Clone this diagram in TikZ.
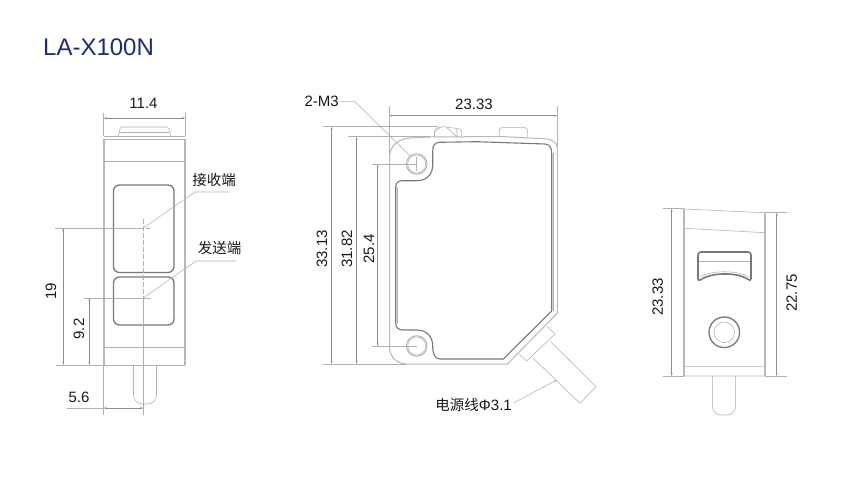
\documentclass[tikz,border=0pt]{standalone}
\usepackage{fontspec}
\setmainfont{Liberation Sans}
\newfontfamily\cjkfont{Noto Sans CJK SC}
\usetikzlibrary{arrows.meta}
\definecolor{thinc}{HTML}{B0B0B0}
\definecolor{dimc}{HTML}{8C8C8C}
\definecolor{bodyc}{HTML}{B8B8B8}
\definecolor{winc}{HTML}{787878}
\definecolor{titlec}{HTML}{1F2A7A}
\tikzset{
  thinl/.style={draw=thinc,line width=0.55pt},
  extl/.style={draw=thinc,line width=0.55pt},
  diml/.style={draw=dimc,line width=0.55pt,{Stealth[length=3pt,width=1.8pt]}-{Stealth[length=3pt,width=1.8pt]}},
  bodyl/.style={draw=bodyc,line width=1.5pt},
  outl/.style={draw=bodyc,line width=1pt},
  winl/.style={draw=winc,line width=1.3pt},
  cl/.style={draw=thinc,line width=0.5pt,dash pattern=on 5pt off 2pt},
  lab/.style={inner sep=0pt,text=black!90,font=\fontsize{15}{15}\selectfont},
  cjk/.style={inner sep=0pt,text=black!90,font=\fontsize{14.5}{15}\selectfont\cjkfont},
}
\begin{document}
\begin{tikzpicture}[x=1pt,y=-1pt]
\useasboundingbox[fill=white] (0,0) rectangle (846,503);
\node[inner sep=0pt,anchor=west,text=titlec,font=\fontsize{24}{24}\selectfont] (title) at (43,47) {LA-X100N};

% ---------- front view
\draw[bodyl] (104,139) -- (104,365);
\draw[bodyl] (185,139) -- (185,365);
\draw[thinl] (104,136) -- (185,136) (104,139) -- (185,139) (104,161) -- (185,161) (104,347) -- (185,347) (104,365) -- (185,365);
\draw[thinl] (118,137) -- (120,129) -- (121,127) -- (167,127) -- (169,129) -- (171,137);
\draw[thinl] (119,132) -- (169,132);
\draw[winl,rounded corners=6pt] (113.5,185) rectangle (174,272.5);
\draw[winl,rounded corners=6pt] (113.5,277) rectangle (174,325);
\draw[thinl,rounded corners=9pt] (133.5,365) -- (133.5,404) -- (156.5,404) -- (156.5,365);
\draw[cl] (143.3,219) -- (143.3,298);
\draw[thinl] (143.3,298) -- (143.3,415);
\draw[thinl] (138,298) -- (150,298);
\draw[cl] (139,228) -- (150,228);
% dimensions
\draw[extl] (103.7,113) -- (103.7,136) (185.3,113) -- (185.3,136);
\draw[diml] (103.7,118) -- (185.3,118);
\node[lab] (d114) at (143.5,103) {11.4};
\draw[extl] (55,228) -- (139,228) (56,365) -- (104,365) (84,298) -- (140,298);
\draw[diml] (63.3,228) -- (63.3,365);
\draw[diml] (89.3,298) -- (89.3,365);
\node[lab,rotate=90] (d19) at (51,291.5) {19};
\node[lab,rotate=90] (d92) at (79,329) {9.2};
\draw[extl] (103.7,365) -- (103.7,415);
\draw[extl] (67,408) -- (103.7,408);
\draw[diml] (103.7,408) -- (143.3,408);
\node[lab] (d56) at (79,397.5) {5.6};
\coordinate (rc) at (143.3,228);
\coordinate (sc) at (143.3,298);
\node[cjk] (recv) at (214,180) {接收端};
\node[cjk] (send) at (219.5,248) {发送端};
\draw[thinl] (rc) -- (195,192) -- (230,192);
\draw[thinl] (sc) -- (196,261) -- (236,261);

% ---------- side view
\draw[outl] (389.5,156.7) .. controls (389.5,147) and (398,138.5) .. (410,138) -- (430,137) -- (500,136.5) -- (544,138.7) .. controls (552,139.3) and (557.3,142) .. (557.3,148) -- (557.3,313.3) -- (507.3,364) -- (406.7,364) .. controls (396,364) and (389.5,356) .. (389.5,346.7) -- cycle;
\draw[winl,line width=1.1pt] (395.7,323) .. controls (395.7,328) and (399,330) .. (403,330) -- (416.7,330) .. controls (427,330) and (432.7,337) .. (432.7,346) .. controls (432.7,354) and (435,359) .. (440,359) -- (503.3,359) -- (551.7,311) -- (551.7,153) .. controls (551.7,147) and (549,144.5) .. (545,144) -- (476.7,141.7) -- (440,142.3) .. controls (435,142.5) and (432.7,145) .. (432.7,151) -- (432.7,165) .. controls (432.7,174) and (427,180.7) .. (416.7,180.7) -- (401.7,180.7) .. controls (398,180.7) and (395.7,183) .. (395.7,187) -- cycle;
\draw[thinc,line width=0.5pt] (397.2,323) -- (397.2,187) (553.2,311) -- (553.2,153);
\foreach \y in {164,346}{
  \draw[thinl,line width=0.9pt] (416.7,\y) circle (10.3);
  \draw[thinl] (416.7,\y) circle (9);
}
\draw[thinl] (434.5,137) -- (434.5,131) .. controls (436,127) and (443,126) .. (446,127) -- (460,129) -- (461.7,131) -- (461.7,137);
\draw[thinl] (434.5,132) -- (441,127) (446,127) -- (457,137) (457,129) -- (457,137);
\draw[thinl] (499.3,137) -- (499.3,130) -- (502,127.3) -- (525,127.3) -- (527.7,130) -- (527.7,137);
\draw[thinl] (546.7,326) -- (555,334) -- (526.7,361) -- (519,354);
\draw[thinl] (550.7,341.7) -- (596,386.7) -- (580,403.3) -- (533.3,358.3);
% dimensions
\draw[extl] (389.3,105.7) -- (389.3,156) (557.3,105.7) -- (557.3,146);
\draw[diml] (389.3,115.7) -- (557.3,115.7);
\node[lab] (d2333a) at (474,104) {23.33};
\node[lab] (m3) at (321.7,101.7) {2-M3};
\coordinate (h1) at (410,156);
\draw[thinl] (m3.east) ++(1,0) -- (355,101.7) -- (h1);
\draw[extl] (322.7,126.7) -- (438,126.7) (348,136.7) -- (430,136.7) (371.7,164.3) -- (416.7,164.3);
\draw[extl] (323,364) -- (406,364) (371.7,346) -- (416.7,346);
\draw[thinl] (416.7,157) -- (416.7,171);
\draw[diml] (331.7,126.7) -- (331.7,364);
\draw[diml] (356.7,136.7) -- (356.7,364);
\draw[diml] (377.7,164.3) -- (377.7,346);
\node[lab,rotate=90] (d3313) at (322,249) {33.13};
\node[lab,rotate=90] (d3182) at (347,249) {31.82};
\node[lab,rotate=90] (d254) at (369,249) {25.4};
\node[cjk,anchor=east] (cable) at (512,405) {电源线{\fontsize{15}{15}\selectfont\rmfamily Φ3.1}};
\coordinate (cb) at (556.7,380);
\draw[thinl,-{Stealth[length=3pt,width=1.8pt]}] (cable.east) ++(1.5,-2) -- (cb);

% ---------- end view
\draw[bodyl] (684,209) -- (684,376);
\draw[bodyl] (765,212.7) -- (765,376);
\draw[thinl] (684,209) -- (765,212.7) (684,228.3) -- (765,232.7) (684,366.7) -- (765,366.7) (684,376) -- (765,376);
\draw[winl,line width=1.6pt,rounded corners=3pt] (698,252) -- (751,252) -- (751,281.5) .. controls (738,272) and (712,272) .. (698,281.5) -- cycle;
\draw[thinl] (699,261) -- (750,261);
\draw[thinl] (700,277) .. controls (712,270) and (737,270) .. (749,277);
\draw[winl,line width=1.3pt] (724.3,332.3) circle (15.3);
\draw[thinl] (724.3,332.3) circle (10.3);
\draw[thinl,rounded corners=9pt] (712.3,376) -- (712.3,415) -- (735.7,415) -- (735.7,376);
\draw[extl] (662.7,208.7) -- (684,208.7) (662.7,376) -- (684,376) (765,212.7) -- (786.7,212.7) (765,376) -- (786.7,376);
\draw[diml] (671.7,208.7) -- (671.7,376);
\draw[diml] (776.7,212.7) -- (776.7,376);
\node[lab,rotate=90] (d2333b) at (657.7,297) {23.33};
\node[lab,rotate=90] (d2275) at (791.7,293) {22.75};
\end{tikzpicture}
\end{document}
